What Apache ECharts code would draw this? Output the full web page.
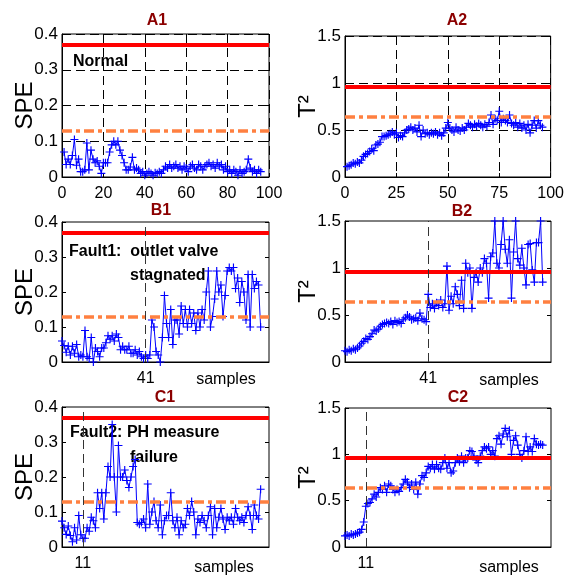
<!DOCTYPE html>
<html>
<head>
<meta charset="utf-8">
<title>SPE / T2 monitoring</title>
<script src="https://cdn.jsdelivr.net/npm/echarts@6/dist/echarts.min.js"></script>
<style>
html, body { margin: 0; padding: 0; background: #fff; }
#chart { width: 567px; height: 578px; }
</style>
</head>
<body>
<div id="chart"></div>
<script>
// samples 1..96 for every panel
var speNormal = [
  0.07, 0.035, 0.05, 0.035, 0.06, 0.105, 0.033, 0.05, 0.015, 0.015,
  0.02, 0.095, 0.02, 0.075, 0.05, 0.04, 0.045, 0.03, 0.01, 0.04,
  0.04, 0.04, 0.07, 0.09, 0.10, 0.09, 0.10, 0.075, 0.06, 0.04,
  0.02, 0.02, 0.028, 0.055, 0.02, 0.025, 0.02, 0.01, 0.015, 0.005,
  0.01, 0.015, 0.01, 0.005, 0.012, 0.01, 0.015, 0.01, 0.02, 0.03,
  0.025, 0.035, 0.025, 0.03, 0.035, 0.025, 0.03, 0.02, 0.03, 0.025,
  0.015, 0.03, 0.035, 0.025, 0.02, 0.035, 0.03, 0.02, 0.03, 0.035,
  0.04, 0.03, 0.035, 0.025, 0.04, 0.03, 0.035, 0.02, 0.03, 0.015,
  0.02, 0.01, 0.02, 0.015, 0.005, 0.02, 0.01, 0.015, 0.02, 0.05,
  0.025, 0.015, 0.02, 0.01, 0.02, 0.015
];
var t2Normal = [
  0.11, 0.12, 0.13, 0.15, 0.14, 0.16, 0.15, 0.18, 0.22, 0.24,
  0.25, 0.27, 0.30, 0.28, 0.34, 0.35, 0.37, 0.43, 0.43, 0.44,
  0.45, 0.46, 0.48, 0.45, 0.47, 0.42, 0.44, 0.43, 0.47, 0.50,
  0.51, 0.53, 0.50, 0.52, 0.48, 0.55, 0.43, 0.50, 0.46, 0.47,
  0.45, 0.47, 0.46, 0.48, 0.45, 0.47, 0.44, 0.47, 0.52, 0.58,
  0.52, 0.50, 0.48, 0.53, 0.50, 0.49, 0.52, 0.50, 0.53, 0.57,
  0.55, 0.53, 0.56, 0.54, 0.57, 0.55, 0.53, 0.56, 0.54, 0.58,
  0.66, 0.56, 0.62, 0.60, 0.70, 0.58, 0.62, 0.60, 0.58, 0.66,
  0.57, 0.55, 0.58, 0.53, 0.57, 0.52, 0.55, 0.50, 0.56, 0.47,
  0.55, 0.60, 0.52, 0.60, 0.55, 0.53
];
var speFault1 = [
  0.06, 0.047, 0.028, 0.045, 0.02, 0.045, 0.025, 0.05, 0.015, 0.02,
  0.015, 0.09, 0.015, 0.01, 0.07, 0.0, 0.04, 0.03, 0.015, 0.04,
  0.04, 0.055, 0.075, 0.065, 0.075, 0.06, 0.08, 0.07, 0.035, 0.045,
  0.035, 0.035, 0.045, 0.025, 0.025, 0.035, 0.02, 0.03, 0.015, 0.01,
  0.02, 0.01, 0.02, 0.12, 0.10, 0.03, 0.02, 0.0, 0.07, 0.19,
  0.11, 0.07, 0.15, 0.05, 0.12, 0.12, 0.08, 0.16, 0.11, 0.15,
  0.10, 0.15, 0.11, 0.14, 0.09, 0.14, 0.10, 0.15, 0.12, 0.20,
  0.26, 0.10, 0.13, 0.18, 0.26, 0.20, 0.22, 0.13, 0.19, 0.26,
  0.27, 0.26, 0.27, 0.21, 0.24, 0.17, 0.23, 0.20, 0.12, 0.25,
  0.10, 0.25, 0.21, 0.23, 0.22, 0.10
];
var t2Fault1 = [
  0.12, 0.11, 0.13, 0.12, 0.14, 0.13, 0.15, 0.17, 0.20, 0.22,
  0.25, 0.24, 0.27, 0.30, 0.34, 0.33, 0.35, 0.38, 0.40, 0.41,
  0.42, 0.41, 0.43, 0.40, 0.44, 0.42, 0.43, 0.41, 0.45, 0.47,
  0.50, 0.48, 0.45, 0.46, 0.47, 0.44, 0.52, 0.46, 0.45, 0.43,
  0.72, 0.58, 0.62, 0.57, 0.63, 0.60, 0.66, 0.58, 0.62, 1.02,
  0.55, 0.70, 0.62, 0.80, 0.72, 0.60, 0.87, 0.57, 1.05, 0.95,
  1.00, 0.57, 0.90, 0.95, 0.85, 1.00, 0.95, 1.10, 1.05, 0.68,
  1.12, 1.16, 1.50, 1.05, 1.00, 1.25, 1.50, 1.20, 1.05, 1.30,
  0.68, 1.17, 1.50, 1.10, 1.03, 1.21, 1.00, 0.82, 1.25, 1.26,
  0.98, 0.85, 1.27, 1.27, 1.50, 0.85
];
var speFault2 = [
  0.074, 0.055, 0.036, 0.06, 0.033, 0.015, 0.055, 0.02, 0.09, 0.035,
  0.025, 0.025, 0.055, 0.045, 0.085, 0.075, 0.055, 0.155, 0.11, 0.155,
  0.08, 0.155, 0.23, 0.20, 0.35, 0.20, 0.10, 0.29, 0.20, 0.20,
  0.22, 0.19, 0.17, 0.20, 0.23, 0.25, 0.07, 0.065, 0.07, 0.08,
  0.055, 0.18, 0.065, 0.10, 0.13, 0.075, 0.055, 0.12, 0.035, 0.075,
  0.09, 0.09, 0.155, 0.075, 0.055, 0.085, 0.035, 0.075, 0.055, 0.065,
  0.11, 0.09, 0.13, 0.10, 0.035, 0.08, 0.07, 0.09, 0.075, 0.055,
  0.09, 0.115, 0.035, 0.11, 0.055, 0.085, 0.11, 0.08, 0.05, 0.085,
  0.075, 0.085, 0.065, 0.11, 0.085, 0.075, 0.085, 0.07, 0.09, 0.115,
  0.09, 0.05, 0.12, 0.09, 0.08, 0.165
];
var t2Fault2 = [
  0.12, 0.13, 0.12, 0.14, 0.13, 0.14, 0.15, 0.16, 0.19, 0.27,
  0.44, 0.47, 0.48, 0.52, 0.57, 0.54, 0.59, 0.64, 0.62, 0.66,
  0.59, 0.68, 0.66, 0.62, 0.59, 0.62, 0.60, 0.64, 0.68, 0.73,
  0.70, 0.64, 0.68, 0.62, 0.70, 0.57, 0.68, 0.77, 0.75, 0.80,
  0.87, 0.85, 0.89, 0.84, 0.89, 0.85, 0.84, 0.91, 0.96, 0.85,
  0.91, 0.80, 0.82, 0.91, 0.96, 0.92, 0.98, 0.91, 0.96, 0.96,
  1.04, 1.03, 0.98, 0.94, 0.91, 0.98, 1.04, 1.08, 1.06, 1.08,
  1.00, 1.04, 0.98, 1.17, 1.20, 1.11, 1.22, 1.28, 1.19, 1.26,
  1.00, 1.15, 1.20, 1.10, 1.00, 0.96, 1.04, 1.19, 1.03, 1.08,
  1.03, 1.17, 1.11, 1.10, 1.11, 1.10
];

// control limits (99% solid red, 95% dash-dot orange)
var speLimits = [0.368, 0.133];
var t2Limits = [0.965, 0.64];

var panelTitles = ['A1', 'A2', 'B1', 'B2', 'C1', 'C2'];
var faultSamples = [null, null, 41, 41, 11, 11];
var normalXSteps = [20, 25];
var speTicks = { max: 0.4, step: 0.1 };
var t2Ticks = { max: 1.5, step: 0.5 };

var font = 'Liberation Sans, Arial, sans-serif';

var grids = [
  { left: 62, top: 34, width: 207, height: 143 },
  { left: 345, top: 36, width: 206, height: 141 },
  { left: 62, top: 222, width: 207, height: 140 },
  { left: 345, top: 221, width: 206, height: 141 },
  { left: 62, top: 407, width: 207, height: 140 },
  { left: 345, top: 408, width: 206, height: 139 }
];

var panelValues = [speNormal, t2Normal, speFault1, t2Fault1, speFault2, t2Fault2];

// '+' marker
var plusSymbol = 'path://M3,0h1v3h3v1h-3v3h-1v-3h-3v-1h3z';

function toPoints(arr) {
  return arr.map(function (v, i) { return [i + 1, v]; });
}

var xAxes = [], yAxes = [], series = [];

for (var i = 0; i < 6; i++) {
  var isSpe = (i % 2 === 0);
  var ticks = isSpe ? speTicks : t2Ticks;
  var limits = isSpe ? speLimits : t2Limits;
  var fault = faultSamples[i];

  var xAxis = {
    gridIndex: i,
    type: 'value',
    min: fault ? 1 : 0,
    max: 100,
    axisLine: { lineStyle: { color: '#000', width: 1 } },
    axisTick: { inside: true, length: 4, lineStyle: { color: '#000' } },
    axisLabel: { color: '#000', fontSize: 16, fontFamily: font, margin: 9 },
    splitLine: { show: !fault, lineStyle: { color: '#000', type: [9, 5], width: 1 } }
  };
  if (fault) {
    xAxis.axisLabel.customValues = [fault];
    xAxis.axisTick.customValues = [fault];
  } else {
    xAxis.interval = normalXSteps[i % 2];
  }
  xAxes.push(xAxis);

  yAxes.push({
    gridIndex: i,
    type: 'value',
    min: 0,
    max: ticks.max,
    interval: ticks.step,
    name: isSpe ? 'SPE' : 'T²',
    nameLocation: 'middle',
    nameGap: 25,
    nameMoveOverlap: false,
    nameTextStyle: { color: '#000', fontSize: 24, fontFamily: font },
    axisLine: { show: true, lineStyle: { color: '#000', width: 1 } },
    axisTick: { inside: true, length: 4, lineStyle: { color: '#000' } },
    axisLabel: { color: '#000', fontSize: 17, fontFamily: font, margin: 4 },
    splitLine: { show: !fault, lineStyle: { color: '#000', type: [9, 5], width: 1 } }
  });
  // mirrored ticks on the right edge
  yAxes.push({
    gridIndex: i,
    type: 'value',
    position: 'right',
    min: 0,
    max: ticks.max,
    interval: ticks.step,
    axisLine: { show: false },
    axisTick: { show: true, inside: true, length: 4, lineStyle: { color: '#000' } },
    axisLabel: { show: false },
    splitLine: { show: false }
  });

  var markData = [
    { yAxis: limits[0], lineStyle: { color: '#ff0000', width: 4, type: 'solid' } },
    { yAxis: limits[1], lineStyle: { color: '#ff8040', width: 3.5, type: [10, 4, 4, 4] } }
  ];
  if (fault) {
    markData.push({ xAxis: fault, lineStyle: { color: '#333', width: 1, type: [9, 5] } });
  }

  series.push({
    type: 'line',
    xAxisIndex: i,
    yAxisIndex: i * 2,
    data: toPoints(panelValues[i]),
    symbol: plusSymbol,
    symbolSize: 8,
    showAllSymbol: true,
    lineStyle: { color: '#0000ff', width: 1 },
    itemStyle: { color: '#0000ff' },
    emphasis: { disabled: true },
    markLine: {
      silent: true,
      symbol: 'none',
      label: { show: false },
      data: markData
    }
  });
}

function txt(x, y, s, opt) {
  opt = opt || {};
  return {
    type: 'text',
    x: x,
    y: y,
    silent: true,
    style: {
      text: s,
      fill: opt.color || '#000',
      font: (opt.weight || 'normal') + ' ' + (opt.size || 16) + 'px ' + font,
      textAlign: opt.align || 'center',
      textVerticalAlign: 'middle'
    }
  };
}

var titlePos = [[157, 21], [457, 21], [161, 211], [462, 212], [165, 398], [458, 398]];
var graphics = [];
for (var k = 0; k < 6; k++) {
  graphics.push(txt(titlePos[k][0], titlePos[k][1], panelTitles[k], { color: '#8b0000', weight: 'bold', size: 16 }));
}
graphics.push(txt(73, 62, 'Normal', { weight: 'bold', align: 'left' }));
graphics.push(txt(69, 252, 'Fault1:  outlet valve', { weight: 'bold', align: 'left' }));
graphics.push(txt(130, 276, 'stagnated', { weight: 'bold', align: 'left' }));
graphics.push(txt(70, 433, 'Fault2: PH measure', { weight: 'bold', align: 'left' }));
graphics.push(txt(130, 458, 'failure', { weight: 'bold', align: 'left' }));
graphics.push(txt(226, 380, 'samples'));
graphics.push(txt(509, 381, 'samples'));
graphics.push(txt(224, 568, 'samples'));
graphics.push(txt(509, 568, 'samples'));

var myChart = echarts.init(document.getElementById('chart'));
myChart.setOption({
  animation: false,
  backgroundColor: '#fff',
  grid: grids.map(function (g) {
    return { left: g.left, top: g.top, width: g.width, height: g.height, show: true, borderColor: '#000', borderWidth: 1, backgroundColor: 'transparent' };
  }),
  xAxis: xAxes,
  yAxis: yAxes,
  series: series,
  graphic: graphics
});
</script>
</body>
</html>
